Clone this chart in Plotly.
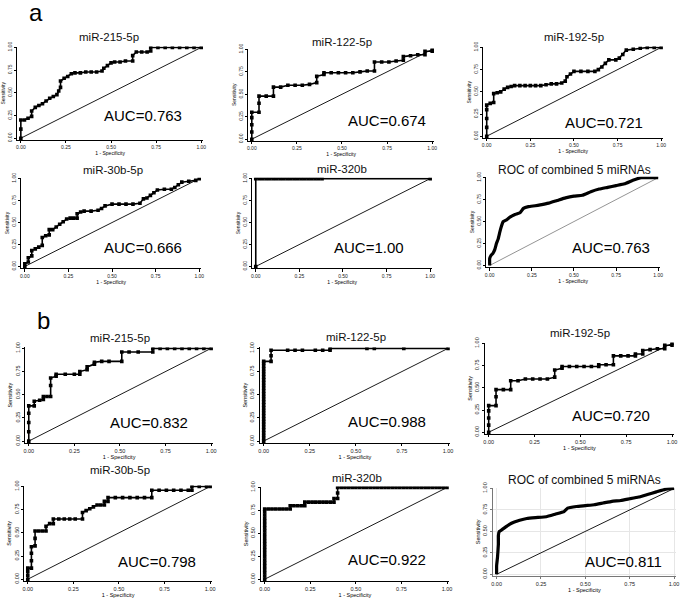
import plotly.graph_objects as go

# ---------------- data (1 - specificity, sensitivity) ----------------
titles = ["miR-215-5p", "miR-122-5p", "miR-192-5p", "miR-30b-5p", "miR-320b", "ROC of combined 5 miRNAs",
          "miR-215-5p", "miR-122-5p", "miR-192-5p", "miR-30b-5p", "miR-320b", "ROC of combined 5 miRNAs"]
auc_labels = ["AUC=0.763", "AUC=0.674", "AUC=0.721", "AUC=0.666", "AUC=1.00", "AUC=0.763",
              "AUC=0.832", "AUC=0.988", "AUC=0.720", "AUC=0.798", "AUC=0.922", "AUC=0.811"]
tick_vals = [0, 0.25, 0.5, 0.75, 1.0]
tick_text = ["0.00", "0.25", "0.50", "0.75", "1.00"]
diag_x = [0, 1]
diag_y = [0, 1]

a1_fpr = [0, 0, 0, 0.02, 0.04, 0.06, 0.06, 0.08, 0.10, 0.12, 0.14, 0.16, 0.18, 0.20, 0.21, 0.22, 0.22, 0.24, 0.26,
          0.28, 0.30, 0.33, 0.36, 0.39, 0.42, 0.45, 0.46, 0.48, 0.50, 0.52, 0.55, 0.58, 0.62, 0.62, 0.64, 0.67, 0.70,
          0.72, 0.72, 0.76, 0.80, 0.84, 0.88, 0.92, 0.96, 1.0]
a1_tpr = [0, 0.1, 0.2, 0.2, 0.22, 0.24, 0.30, 0.34, 0.36, 0.38, 0.41, 0.44, 0.46, 0.48, 0.52, 0.56, 0.63, 0.66, 0.68,
          0.71, 0.72, 0.72, 0.73, 0.73, 0.73, 0.74, 0.77, 0.80, 0.83, 0.84, 0.84, 0.85, 0.85, 0.91, 0.95, 0.95, 0.95,
          0.96, 1.0, 1, 1, 1, 1, 1, 1, 1]

a2_fpr = [0, 0, 0, 0, 0, 0.04, 0.04, 0.04, 0.08, 0.12, 0.12, 0.16, 0.20, 0.24, 0.28, 0.32, 0.36, 0.36, 0.40, 0.40,
          0.44, 0.48, 0.52, 0.56, 0.60, 0.64, 0.68, 0.68, 0.72, 0.76, 0.80, 0.84, 0.84, 0.88, 0.92, 0.96, 0.96, 1.0, 1.0]
a2_tpr = [0, 0.08, 0.16, 0.24, 0.30, 0.30, 0.40, 0.48, 0.48, 0.48, 0.58, 0.58, 0.60, 0.60, 0.60, 0.61, 0.63, 0.70,
          0.72, 0.74, 0.74, 0.74, 0.74, 0.74, 0.75, 0.76, 0.76, 0.86, 0.86, 0.86, 0.87, 0.88, 0.92, 0.93, 0.94, 0.94,
          0.98, 0.98, 1.0]

a3_fpr = [0, 0, 0, 0, 0, 0.02, 0.04, 0.04, 0.06, 0.08, 0.10, 0.12, 0.14, 0.16, 0.19, 0.22, 0.25, 0.28, 0.31, 0.34,
          0.37, 0.40, 0.43, 0.45, 0.46, 0.48, 0.50, 0.54, 0.58, 0.62, 0.64, 0.66, 0.68, 0.70, 0.74, 0.76, 0.78, 0.80,
          0.84, 0.88, 0.92, 0.96, 1.0]
a3_tpr = [0, 0.1, 0.2, 0.3, 0.35, 0.37, 0.38, 0.48, 0.49, 0.50, 0.53, 0.55, 0.56, 0.57, 0.57, 0.57, 0.57, 0.57, 0.57,
          0.58, 0.59, 0.59, 0.60, 0.62, 0.67, 0.70, 0.73, 0.73, 0.73, 0.73, 0.75, 0.78, 0.82, 0.86, 0.86, 0.88, 0.92,
          0.97, 0.98, 0.99, 1.0, 1.0, 1.0]

a4_fpr = [0, 0, 0.02, 0.02, 0.04, 0.04, 0.06, 0.08, 0.10, 0.10, 0.12, 0.14, 0.14, 0.16, 0.18, 0.20, 0.22, 0.24, 0.26,
          0.28, 0.30, 0.30, 0.32, 0.34, 0.38, 0.42, 0.44, 0.46, 0.50, 0.54, 0.58, 0.62, 0.66, 0.68, 0.70, 0.72, 0.74,
          0.76, 0.80, 0.84, 0.86, 0.88, 0.90, 0.94, 0.98, 1.0]
a4_tpr = [0, 0.03, 0.05, 0.10, 0.12, 0.18, 0.20, 0.22, 0.24, 0.33, 0.35, 0.36, 0.42, 0.42, 0.45, 0.48, 0.51, 0.54, 0.55,
          0.55, 0.55, 0.60, 0.62, 0.63, 0.63, 0.64, 0.66, 0.69, 0.71, 0.71, 0.71, 0.71, 0.72, 0.77, 0.78, 0.81, 0.84,
          0.87, 0.88, 0.88, 0.90, 0.93, 0.96, 0.97, 0.98, 1.0]

a5_fpr = [0, 0, 0.02, 0.04, 0.06, 0.08, 0.10, 0.12, 0.14, 0.16, 0.18, 0.20, 0.22, 0.24, 0.26, 0.28, 0.30, 0.32, 0.34,
          0.36, 0.38, 1.0]
a5_tpr = [0, 1, 1, 1, 1, 1, 1, 1, 1, 1, 1, 1, 1, 1, 1, 1, 1, 1, 1, 1, 1, 1]

a6_fpr = [0, 0, 0.01, 0.02, 0.03, 0.04, 0.05, 0.06, 0.07, 0.08, 0.10, 0.12, 0.15, 0.18, 0.20, 0.23, 0.27, 0.30, 0.35,
          0.40, 0.45, 0.50, 0.55, 0.60, 0.65, 0.70, 0.75, 0.80, 0.85, 0.90, 0.95, 1.0]
a6_tpr = [0, 0.08, 0.12, 0.14, 0.18, 0.25, 0.30, 0.38, 0.45, 0.50, 0.52, 0.55, 0.58, 0.60, 0.65, 0.67, 0.68, 0.69, 0.71,
          0.74, 0.77, 0.79, 0.80, 0.84, 0.87, 0.89, 0.91, 0.93, 0.97, 1.0, 1.0, 1.0]

b1_fpr = [0, 0, 0, 0, 0, 0.03, 0.03, 0.06, 0.08, 0.08, 0.10, 0.12, 0.12, 0.12, 0.15, 0.15, 0.20, 0.25, 0.28, 0.28,
          0.32, 0.32, 0.36, 0.36, 0.40, 0.44, 0.51, 0.51, 0.55, 0.60, 0.68, 0.68, 0.72, 0.76, 0.80, 0.84, 0.88, 0.92,
          0.96, 1.0]
b1_tpr = [0, 0.1, 0.2, 0.3, 0.38, 0.38, 0.43, 0.44, 0.45, 0.48, 0.48, 0.48, 0.60, 0.68, 0.70, 0.72, 0.72, 0.72, 0.72,
          0.75, 0.77, 0.80, 0.83, 0.85, 0.86, 0.86, 0.86, 0.96, 0.96, 0.96, 0.96, 1.0, 1, 1, 1, 1, 1, 1, 1, 1]

b2_fpr = [0, 0, 0, 0, 0, 0, 0, 0, 0, 0, 0, 0, 0, 0, 0, 0, 0, 0, 0, 0, 0, 0, 0, 0, 0, 0, 0, 0, 0, 0,
          0.04, 0.04, 0.04, 0.13, 0.17, 0.21, 0.28, 0.32, 0.36, 0.36, 0.56, 0.60, 0.76, 1.0]
b2_tpr = [0, 0.03, 0.06, 0.09, 0.12, 0.15, 0.18, 0.21, 0.24, 0.27, 0.30, 0.33, 0.36, 0.39, 0.42, 0.45, 0.48, 0.51,
          0.54, 0.57, 0.60, 0.63, 0.66, 0.69, 0.72, 0.75, 0.78, 0.81, 0.84, 0.86,
          0.86, 0.92, 0.98, 0.98, 0.98, 0.98, 0.98, 0.98, 0.98, 1.0, 1.0, 1.0, 1.0, 1.0]

b3_fpr = [0, 0, 0, 0, 0, 0.04, 0.04, 0.04, 0.08, 0.12, 0.12, 0.16, 0.20, 0.24, 0.28, 0.32, 0.36, 0.36, 0.40, 0.40,
          0.44, 0.48, 0.52, 0.56, 0.60, 0.60, 0.64, 0.68, 0.68, 0.72, 0.76, 0.80, 0.80, 0.84, 0.84, 0.88, 0.92, 0.96,
          0.96, 1.0, 1.0]
b3_tpr = [0, 0.08, 0.16, 0.24, 0.30, 0.30, 0.40, 0.48, 0.48, 0.48, 0.58, 0.58, 0.60, 0.60, 0.60, 0.60, 0.62, 0.70,
          0.72, 0.74, 0.74, 0.74, 0.74, 0.74, 0.74, 0.76, 0.76, 0.76, 0.86, 0.86, 0.86, 0.86, 0.88, 0.88, 0.92, 0.93,
          0.94, 0.94, 0.98, 0.98, 1.0]

b4_fpr = [0, 0, 0, 0, 0.02, 0.02, 0.02, 0.02, 0.04, 0.04, 0.04, 0.06, 0.08, 0.10, 0.10, 0.12, 0.14, 0.14, 0.17, 0.20,
          0.23, 0.26, 0.30, 0.30, 0.32, 0.34, 0.36, 0.38, 0.40, 0.42, 0.42, 0.44, 0.44, 0.48, 0.52, 0.56, 0.60, 0.64,
          0.68, 0.68, 0.72, 0.76, 0.80, 0.84, 0.88, 0.90, 0.90, 0.94, 0.98, 1.0]
b4_tpr = [0, 0.04, 0.08, 0.12, 0.12, 0.20, 0.28, 0.35, 0.36, 0.44, 0.52, 0.52, 0.52, 0.52, 0.57, 0.60, 0.60, 0.65,
          0.65, 0.65, 0.65, 0.65, 0.65, 0.72, 0.74, 0.76, 0.78, 0.80, 0.80, 0.80, 0.84, 0.84, 0.88, 0.88, 0.88, 0.88,
          0.88, 0.88, 0.88, 0.96, 0.96, 0.96, 0.96, 0.96, 0.96, 0.96, 1.0, 1.0, 1.0, 1.0]

b5_fpr = [0, 0, 0, 0, 0, 0, 0, 0, 0, 0, 0, 0, 0, 0, 0, 0, 0, 0, 0, 0, 0, 0, 0,
          0.02, 0.04, 0.06, 0.08, 0.10, 0.12, 0.14, 0.14, 0.16, 0.18, 0.20, 0.22, 0.22, 0.24, 0.26, 0.28, 0.30, 0.32,
          0.34, 0.36, 0.38, 0.38, 0.40, 0.40, 0.40, 0.42, 0.44, 0.46, 0.48, 0.50, 0.52, 0.54, 0.56, 0.58, 0.60, 0.62,
          0.64, 0.66, 0.68, 0.70, 0.72, 0.74, 0.76, 0.78, 0.80, 0.82, 0.84, 0.86, 0.88, 0.90, 0.92, 0.94, 0.96, 0.98,
          1.0]
b5_tpr = [0, 0.035, 0.07, 0.105, 0.14, 0.175, 0.21, 0.245, 0.28, 0.315, 0.35, 0.385, 0.42, 0.455, 0.49, 0.525, 0.56,
          0.595, 0.63, 0.665, 0.70, 0.735, 0.765,
          0.765, 0.765, 0.765, 0.765, 0.765, 0.765, 0.765, 0.80, 0.80, 0.80, 0.80, 0.80, 0.84, 0.84, 0.84, 0.84, 0.84,
          0.84, 0.84, 0.84, 0.84, 0.88, 0.88, 0.94, 1.0, 1.0, 1.0, 1.0, 1.0, 1.0, 1.0, 1.0, 1.0, 1.0, 1.0, 1.0,
          1.0, 1.0, 1.0, 1.0, 1.0, 1.0, 1.0, 1.0, 1.0, 1.0, 1.0, 1.0, 1.0, 1.0, 1.0, 1.0, 1.0, 1.0,
          1.0]

b6_fpr = [0, 0, 0.005, 0.01, 0.01, 0.015, 0.03, 0.05, 0.07, 0.10, 0.13, 0.17, 0.22, 0.28, 0.33, 0.38, 0.40, 0.45, 0.50,
          0.55, 0.60, 0.65, 0.70, 0.75, 0.80, 0.85, 0.90, 0.95, 1.0]
b6_tpr = [0, 0.10, 0.20, 0.35, 0.45, 0.50, 0.52, 0.55, 0.58, 0.61, 0.63, 0.65, 0.66, 0.67, 0.70, 0.73, 0.77, 0.79, 0.80,
          0.81, 0.83, 0.85, 0.86, 0.88, 0.90, 0.93, 0.96, 0.99, 1.0]

curves_fpr = [a1_fpr, a2_fpr, a3_fpr, a4_fpr, a5_fpr, a6_fpr, b1_fpr, b2_fpr, b3_fpr, b4_fpr, b5_fpr, b6_fpr]
curves_tpr = [a1_tpr, a2_tpr, a3_tpr, a4_tpr, a5_tpr, a6_tpr, b1_tpr, b2_tpr, b3_tpr, b4_tpr, b5_tpr, b6_tpr]

# ---------------- layout geometry (pixels) ----------------
W, H = 685, 599
# pixel of x=0, x=1, y=0, y=1
geom = [
    (19, 201, 135, 43), (252, 434, 136, 45), (489, 665, 133, 43),
    (23, 199, 265, 176), (256, 432, 265, 176), (492, 662, 264, 175),
    (27, 211, 442, 348), (264, 450, 442, 348), (491, 676, 433, 343),
    (26, 210, 582, 488), (265, 449, 582, 489), (499, 678, 577, 490),
]
title_pos = [(108, 32), (343, 38), (577, 32), (112, 167), (343, 166), (578, 167),
             (119, 338), (357, 337), (583, 332), (119, 471), (358, 479), (588, 481)]
auc_pos = [(142, 112), (388, 117), (607, 119), (142, 246), (370, 246), (614, 246),
           (148, 423), (388, 422), (614, 416), (156, 564), (388, 562), (627, 564)]

R0, R1 = -0.02, 1.01
FONT = "Liberation Sans, Arial, sans-serif"

fig = go.Figure()
layout = dict(width=W, height=H, margin=dict(l=0, r=0, t=0, b=0), paper_bgcolor="white",
              plot_bgcolor="white", showlegend=False, font=dict(family=FONT, color="black"))
annotations = []

for i in range(12):
    k = "" if i == 0 else str(i + 1)
    x0, x1, y0, y1 = geom[i]
    xd = [(x0 + R0 * (x1 - x0)) / W, (x0 + R1 * (x1 - x0)) / W]
    yd = [1 - (y0 + R0 * (y1 - y0)) / H, 1 - (y0 + R1 * (y1 - y0)) / H]
    combined = i in (5, 11)
    grid = (i == 11)
    axcol = "#777777" if grid else "black"
    tsize = 5 if i < 6 else 5.5
    common = dict(range=[R0, R1], tickvals=tick_vals, ticktext=tick_text, showline=True,
                  linecolor=axcol, linewidth=0.8, ticks="outside", ticklen=2.5, tickwidth=0.7,
                  tickcolor=axcol, tickfont=dict(size=tsize, color="#222222"), zeroline=False,
                  showgrid=grid, gridcolor="#e6e6e6", gridwidth=0.7)
    layout["xaxis" + k] = dict(domain=xd, anchor="y" + k, title=dict(text="1 - Specificity",
                               font=dict(size=tsize), standoff=1), **common)
    layout["yaxis" + k] = dict(domain=yd, anchor="x" + k, tickangle=-90, title=dict(text="Sensitivity",
                               font=dict(size=tsize), standoff=1), **common)

    diag_col = "#888888" if i == 5 else "black"
    fig.add_trace(go.Scatter(x=diag_x, y=diag_y, mode="lines", line=dict(color=diag_col, width=0.9),
                             xaxis="x" + k, yaxis="y" + k, hoverinfo="skip"))
    if combined:
        fig.add_trace(go.Scatter(x=curves_fpr[i], y=curves_tpr[i], mode="lines",
                                 line=dict(color="black", width=3.2, shape="spline", smoothing=0.3),
                                 xaxis="x" + k, yaxis="y" + k))
    else:
        fig.add_trace(go.Scatter(x=curves_fpr[i], y=curves_tpr[i], mode="lines+markers",
                                 line=dict(color="black", width=1.6),
                                 marker=dict(symbol="square", size=3.6, color="black"),
                                 xaxis="x" + k, yaxis="y" + k))

    tx, ty = title_pos[i]
    annotations.append(dict(text=titles[i], x=tx / W, y=1 - ty / H, xref="paper", yref="paper",
                            showarrow=False, xanchor="center", yanchor="middle",
                            font=dict(size=12 if combined else 11.5, color="#111111")))
    ax_, ay_ = auc_pos[i]
    annotations.append(dict(text=auc_labels[i], x=ax_ / W, y=1 - ay_ / H, xref="paper", yref="paper",
                            showarrow=False, xanchor="center", yanchor="middle",
                            font=dict(size=15, color="black")))

annotations.append(dict(text="a", x=34 / W, y=1 - 8 / H, xref="paper", yref="paper", showarrow=False,
                        xanchor="center", yanchor="middle", font=dict(size=24, color="black")))
annotations.append(dict(text="b", x=42 / W, y=1 - 320 / H, xref="paper", yref="paper", showarrow=False,
                        xanchor="center", yanchor="middle", font=dict(size=24, color="black")))
layout["annotations"] = annotations
fig.update_layout(**layout)
fig.write_html("out.html", config={"displayModeBar": False},
               post_script="document.body.style.margin='0';document.body.style.overflow='hidden';")
